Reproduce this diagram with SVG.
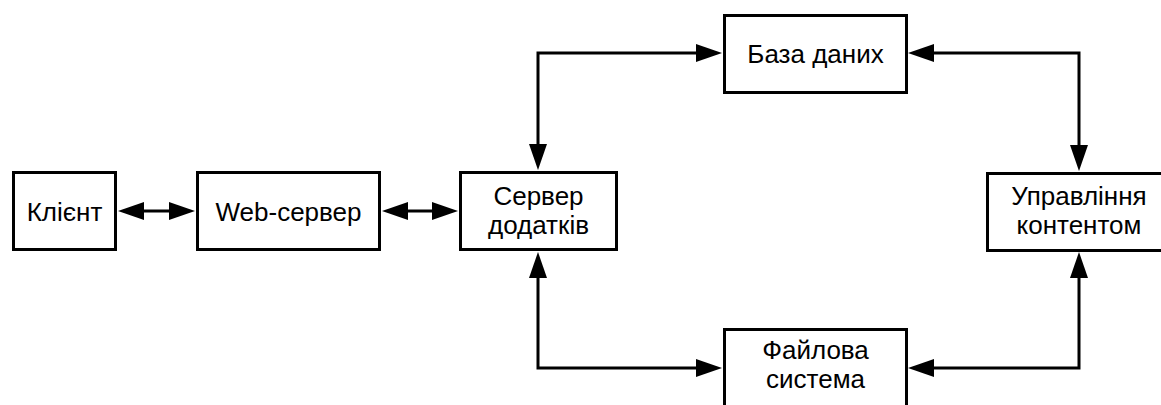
<svg xmlns="http://www.w3.org/2000/svg" width="1161" height="405" viewBox="0 0 1161 405">
  <style>
    .box { fill: #ffffff; stroke: #000000; stroke-width: 3; }
    .label { font-family: "Liberation Sans", Arial, sans-serif; font-size: 26px; fill: #000000; text-anchor: middle; }
    .link { fill: none; stroke: #000000; stroke-width: 3; stroke-linejoin: miter; }
  </style>
  <defs>
    <marker id="head" viewBox="0 0 26 18" refX="8" refY="9" markerWidth="26" markerHeight="18" markerUnits="userSpaceOnUse" orient="auto-start-reverse">
      <path d="M0,0 L26,9 L0,18 z" fill="#000000"/>
    </marker>
  </defs>

  <rect width="1161" height="405" fill="#ffffff"/>

  <!-- connectors -->
  <g id="connectors" class="link" marker-start="url(#head)" marker-end="url(#head)">
    <path d="M136,211 L177,211"/>
    <path d="M400,211 L440,211"/>
    <path d="M538,152 L538,53 L704,53"/>
    <path d="M1079,153 L1079,53 L926,53"/>
    <path d="M538,270 L538,368 L704,368"/>
    <path d="M1079,270 L1079,368 L926,368"/>
  </g>

  <g id="client">
    <rect class="box" x="13.5" y="172.5" width="102" height="77"/>
    <text class="label" x="64.5" y="221">Клієнт</text>
  </g>

  <g id="web-server">
    <rect class="box" x="197.5" y="172.5" width="182" height="77"/>
    <text class="label" x="288.5" y="221">Web-сервер</text>
  </g>

  <g id="app-server">
    <rect class="box" x="460.5" y="172.5" width="156" height="77"/>
    <text class="label" x="538.5" y="205">Сервер</text>
    <text class="label" x="538.5" y="234">додатків</text>
  </g>

  <g id="database">
    <rect class="box" x="724.5" y="15.5" width="182" height="77"/>
    <text class="label" x="815.5" y="63">База даних</text>
  </g>

  <g id="content-management">
    <rect class="box" x="987.5" y="173.5" width="184" height="77"/>
    <text class="label" x="1079" y="205">Управління</text>
    <text class="label" x="1079" y="234">контентом</text>
  </g>

  <g id="file-system">
    <rect class="box" x="724.5" y="329.5" width="182" height="90"/>
    <text class="label" x="815.5" y="359">Файлова</text>
    <text class="label" x="815.5" y="388">система</text>
  </g>
</svg>
